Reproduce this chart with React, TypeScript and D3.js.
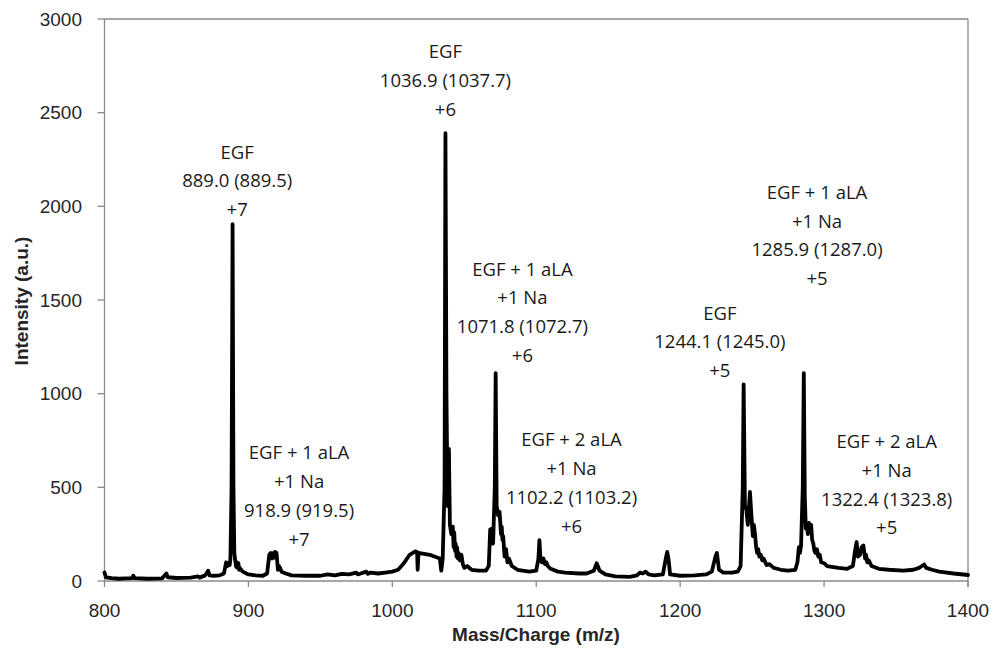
import React from "react";
import * as d3 from "d3";

// m/z values and intensities
const mz: number[] = [
  800, 801, 805, 810, 815, 819, 820, 821, 830, 840, 843, 844, 850, 860, 865, 866, 870, 872, 873, 876, 880, 883,
  884.5, 885.5, 886, 887, 887.5, 888.3, 889.0, 889.6, 890.2, 890.8, 891.5, 892, 892.6, 893, 893.6, 894, 896, 900, 905, 910, 913,
  914.5, 915.5, 916.5, 917, 918, 918.5, 919.5, 920.5, 921.2, 922, 923, 926, 930, 940, 950, 955, 960, 965, 970, 975, 976, 978, 982, 983, 985, 990, 995,
  1000, 1004, 1008, 1012, 1016, 1017.2, 1017.6, 1018.2, 1020, 1026, 1033, 1034, 1035, 1036.3, 1036.9, 1037.6,
  1038.4, 1039.3, 1040, 1041, 1042, 1042.6, 1043, 1043.6, 1044, 1044.6, 1045, 1045.6, 1046, 1047, 1048, 1049, 1050, 1052, 1055, 1060, 1065, 1067, 1068, 1068.6, 1069,
  1070, 1071.2, 1071.8, 1072.5, 1073.5, 1074.5, 1075.5, 1076, 1076.5, 1077, 1078, 1079, 1080, 1081, 1083, 1087, 1095, 1100, 1101.5,
  1102.2, 1103, 1104, 1105, 1106, 1107, 1108, 1110, 1115, 1120, 1130, 1135, 1140, 1142, 1144, 1148, 1155, 1165, 1170,
  1172, 1174, 1176, 1178, 1182, 1188, 1190, 1191, 1192, 1193, 1200, 1210, 1218, 1222, 1224.5, 1225.5, 1227,
  1230, 1236, 1240, 1242, 1243.5, 1244.1, 1245, 1246, 1247, 1248.5, 1249.5, 1250.5, 1251.2, 1252, 1252.8, 1253.5, 1254.2, 1255, 1256, 1257,
  1258, 1260, 1262, 1265, 1270, 1275, 1280, 1281.5, 1282.5, 1283.2, 1284, 1285.2, 1285.9, 1286.6, 1287.3, 1288, 1288.7, 1289.5, 1290.2, 1291, 1291.7, 1292.5,
  1293.3, 1294, 1295, 1296, 1297, 1298, 1300, 1302, 1310, 1316, 1320, 1321.5, 1322.6, 1323.5, 1325, 1326, 1327.3, 1328.5, 1329.2, 1330, 1331, 1333,
  1338, 1345, 1355, 1362, 1366, 1368, 1369.5, 1371, 1375, 1380, 1390, 1400,
];
const intensity: number[] = [
  45, 20, 15, 12, 14, 15, 28, 15, 12, 14, 40, 20, 16, 18, 25, 18, 30, 55, 30, 28, 30, 40,
  100, 80, 95, 85, 120, 500, 1905, 500, 150, 110, 75, 100, 70, 95, 60, 70, 50, 35, 30, 28, 40,
  140, 150, 120, 148, 125, 155, 150, 60, 80, 70, 50, 40, 30, 28, 28, 35, 30, 38, 35, 45, 35, 40, 50, 38, 45, 40, 45,
  50, 60, 95, 140, 158, 155, 60, 150, 148, 140, 120, 55, 120, 500, 2390, 1000,
  400, 705, 300, 250, 290, 180, 260, 160, 200, 130, 180, 120, 150, 110, 140, 90, 70, 80, 60, 55, 55, 80, 275, 200, 280,
  200, 500, 1110, 400, 350, 370, 250, 290, 220, 240, 130, 170, 100, 120, 80, 60, 50, 55, 120,
  218, 110, 100, 120, 90, 100, 80, 65, 50, 45, 40, 40, 55, 95, 55, 35, 25, 22, 30,
  45, 40, 50, 35, 30, 35, 120, 155, 110, 35, 28, 30, 35, 50, 130, 150, 60,
  45, 45, 50, 80, 500, 1050, 400, 380, 300, 475, 350, 240, 300, 250, 180, 150, 170, 130, 140, 110,
  120, 85, 90, 70, 60, 55, 60, 100, 180, 150, 190, 500, 1110, 450, 280, 300, 250, 310, 260, 300, 220, 200,
  160, 150, 170, 130, 140, 100, 95, 80, 70, 65, 80, 160, 208, 130, 140, 180, 190, 120, 140, 100, 110, 80,
  65, 60, 55, 60, 70, 80, 88, 70, 60, 50, 40, 32,
];

const xTicks: number[] = [800, 900, 1000, 1100, 1200, 1300, 1400];
const yTicks: number[] = [0, 500, 1000, 1500, 2000, 2500, 3000];

// annotations: lines of text, centre m/z of the text block, intensity of the first baseline
const annLines: string[][] = [
  ["EGF", "889.0 (889.5)", "+7"],
  ["EGF", "1036.9 (1037.7)", "+6"],
  ["EGF + 1 aLA", "+1 Na", "1071.8 (1072.7)", "+6"],
  ["EGF + 1 aLA", "+1 Na", "918.9 (919.5)", "+7"],
  ["EGF + 2 aLA", "+1 Na", "1102.2 (1103.2)", "+6"],
  ["EGF", "1244.1 (1245.0)", "+5"],
  ["EGF + 1 aLA", "+1 Na", "1285.9 (1287.0)", "+5"],
  ["EGF + 2 aLA", "+1 Na", "1322.4 (1323.8)", "+5"],
];
const annCenterMz: number[] = [892.2, 1036.9, 1090.4, 935.2, 1124.5, 1227.6, 1295.1, 1343.5];
const annTop: number[] = [2255, 2790, 1630, 650, 720, 1395, 2040, 710];

export default function App() {
  const W = 995;
  const H = 653;
  const left = 104.5;
  const right = 968;
  const top = 19;
  const bottom = 581;
  const x = d3.scaleLinear().domain([800, 1400]).range([left, right]);
  const y = d3.scaleLinear().domain([0, 3000]).range([bottom, top]);
  const pts = mz.map((m, i) => [m, intensity[i]] as [number, number]);
  const line = d3
    .line<[number, number]>()
    .x((d) => x(d[0]))
    .y((d) => y(d[1]));
  const axisColor = "#8a8a8a";
  const tickFont = "'Liberation Sans', Arial, sans-serif";
  const annFont = "'Open Sans', 'Noto Sans', sans-serif";
  const lineGap = 28.8;
  return (
    <svg
      width={W}
      height={H}
      style={{ position: "absolute", left: 0, top: 0, background: "#fff" }}
    >
      <rect x={0} y={0} width={W} height={H} fill="#fff" />
      <line x1={left} x2={right} y1={top} y2={top} stroke={axisColor} strokeWidth={1.3} />
      <line x1={right} x2={right} y1={top} y2={bottom + 6} stroke={axisColor} strokeWidth={1.3} />
      <line x1={left} x2={left} y1={top} y2={bottom} stroke={axisColor} strokeWidth={1.3} />
      <line x1={left} x2={right} y1={bottom} y2={bottom} stroke={axisColor} strokeWidth={1.3} />
      {yTicks.map((t) => (
        <g key={"y" + t}>
          <line x1={left - 7} x2={left} y1={y(t)} y2={y(t)} stroke={axisColor} strokeWidth={1.3} />
          <text x={82} y={y(t) + 6.5} textAnchor="end" fontFamily={tickFont} fontSize={19} fill="#262626">
            {t}
          </text>
        </g>
      ))}
      {xTicks.map((t) => (
        <g key={"x" + t}>
          <line x1={x(t)} x2={x(t)} y1={bottom} y2={bottom + 6} stroke={axisColor} strokeWidth={1.3} />
          <text x={x(t)} y={617} textAnchor="middle" fontFamily={tickFont} fontSize={19} fill="#262626">
            {t}
          </text>
        </g>
      ))}
      <text x={536} y={641} textAnchor="middle" fontFamily={tickFont} fontWeight="bold" fontSize={19} fill="#262626">
        Mass/Charge (m/z)
      </text>
      <text
        transform={`translate(28,301) rotate(-90)`}
        textAnchor="middle"
        fontFamily={tickFont}
        fontWeight="bold"
        fontSize={19}
        fill="#262626"
      >
        Intensity (a.u.)
      </text>
      <path
        d={line(pts) || ""}
        fill="none"
        stroke="#000"
        strokeWidth={3.8}
        strokeLinejoin="round"
        strokeLinecap="round"
      />
      {annLines.map((lines, i) => (
        <g key={"a" + i}>
          {lines.map((s, j) => (
            <text
              key={j}
              x={x(annCenterMz[i])}
              y={y(annTop[i]) + j * lineGap}
              textAnchor="middle"
              fontFamily={annFont}
              fontSize={18.5}
              fill="#1a1a1a"
            >
              {s}
            </text>
          ))}
        </g>
      ))}
    </svg>
  );
}
